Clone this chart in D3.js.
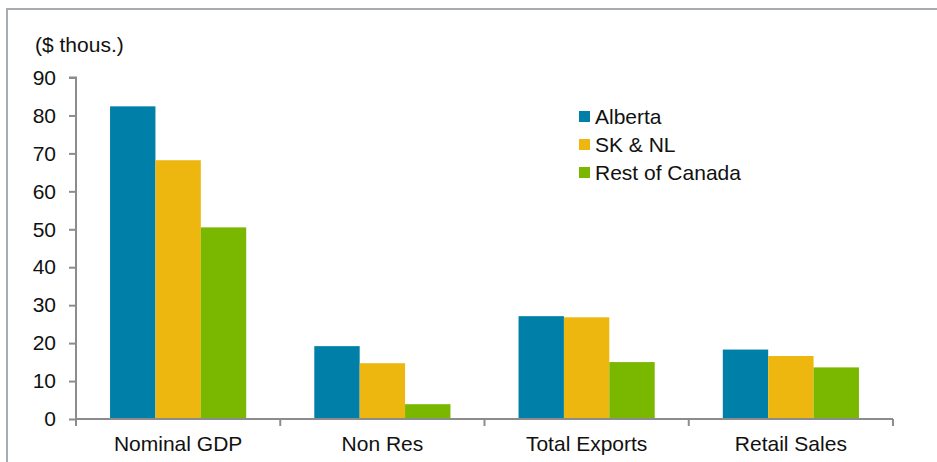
<!DOCTYPE html>
<html><head><meta charset="utf-8">
<script src="https://cdn.jsdelivr.net/npm/d3@7"></script>
<style>html,body{margin:0;padding:0;background:#fff;}svg{display:block;font-family:"Liberation Sans",Arial,sans-serif;}</style>
</head><body>
<svg id="c" width="937" height="462"></svg>
<script>
const categories = ["Nominal GDP", "Non Res", "Total Exports", "Retail Sales"];
const seriesNames = ["Alberta", "SK & NL", "Rest of Canada"];
const alberta = [82.4, 19.2, 27.1, 18.3];
const sknl = [68.2, 14.7, 26.8, 16.6];
const restOfCanada = [50.5, 3.9, 15.0, 13.6];
const yTicks = [0, 10, 20, 30, 40, 50, 60, 70, 80, 90];
const unitLabel = "($ thous.)";
const colors = ["#0080A8", "#EDB70F", "#7AB800"];

const series = [alberta, sknl, restOfCanada];
const svg = d3.select("#c");
const FS = 21;

// frame
svg.append("path").attr("d", "M7,462 L7,9 L937,9").attr("fill", "none")
  .attr("stroke", "#a6acaf").attr("stroke-width", 2);

const x0 = d3.scaleBand().domain(categories).range([76, 893]).padding(0);
const bw = x0.bandwidth();
const x1 = d3.scaleBand().domain(seriesNames).range([bw / 6, bw * 5 / 6]).padding(0);
const y = d3.scaleLinear().domain([0, 90]).range([419, 77.5]);

// bars
const g = svg.append("g");
categories.forEach((c, i) => {
  seriesNames.forEach((s, j) => {
    g.append("rect")
      .attr("x", x0(c) + x1(s))
      .attr("y", y(series[j][i]))
      .attr("width", x1.bandwidth())
      .attr("height", y(0) - y(series[j][i]))
      .attr("fill", colors[j]);
  });
});

// y axis
const yAxis = svg.append("g").attr("transform", "translate(76,0)")
  .call(d3.axisLeft(y).tickValues(yTicks).tickSize(7).tickPadding(13).tickFormat(d3.format("d")));
yAxis.select(".domain").attr("stroke", "#8c8c8c").attr("stroke-width", 2).attr("d", "M-7,77.5H0V419");
yAxis.selectAll(".tick line").attr("stroke", "#8c8c8c").attr("stroke-width", 2);
yAxis.selectAll(".tick text").attr("font-size", FS).attr("fill", "#111").attr("font-family", "Liberation Sans, Arial, sans-serif");

// x axis
const xAxis = svg.append("g").attr("transform", "translate(0,419)")
  .call(d3.axisBottom(x0).tickSize(0).tickPadding(17));
xAxis.select(".domain").attr("stroke", "#8c8c8c").attr("stroke-width", 2).attr("d", "M76,0H893");
xAxis.selectAll(".tick text").attr("font-size", FS).attr("fill", "#111").attr("font-family", "Liberation Sans, Arial, sans-serif");
// category boundary ticks
const bounds = categories.map(c => x0(c)).concat([x0(categories[categories.length - 1]) + bw]);
svg.append("g").selectAll("line").data(bounds).join("line")
  .attr("x1", d => d).attr("x2", d => d).attr("y1", 419).attr("y2", 426)
  .attr("stroke", "#8c8c8c").attr("stroke-width", 2);

// unit label
svg.append("text").attr("x", 35).attr("y", 52).attr("font-size", FS).attr("fill", "#111").text(unitLabel);

// legend
const leg = svg.append("g").attr("transform", "translate(579,111)");
seriesNames.forEach((s, j) => {
  const row = leg.append("g").attr("transform", `translate(0,${j * 28})`);
  row.append("rect").attr("width", 11).attr("height", 11).attr("fill", colors[j]);
  row.append("text").attr("x", 16).attr("y", 12.5).attr("font-size", FS).attr("fill", "#111").text(s);
});
</script>
</body></html>
